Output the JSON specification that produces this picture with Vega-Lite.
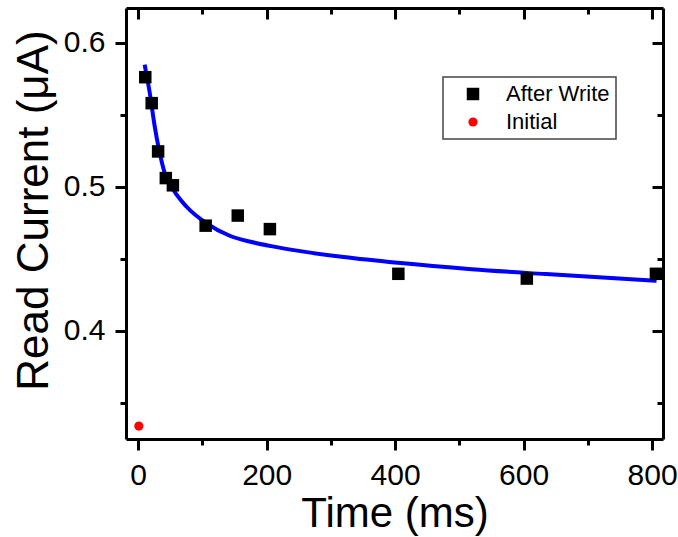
{
  "$schema": "https://vega.github.io/schema/vega-lite/v6.json",
  "width": 537,
  "height": 431,
  "autosize": "none",
  "padding": {"left": 126, "top": 8, "right": 15, "bottom": 98},
  "background": "white",
  "datasets": {
    "fit": [
      {"t": 10, "y": 0.5847},
      {"t": 18, "y": 0.565},
      {"t": 25.7, "y": 0.5419},
      {"t": 32.4, "y": 0.5257},
      {"t": 41.3, "y": 0.5095},
      {"t": 54, "y": 0.4985},
      {"t": 75, "y": 0.4863},
      {"t": 106, "y": 0.4748},
      {"t": 142.5, "y": 0.4660},
      {"t": 175, "y": 0.4618},
      {"t": 207, "y": 0.4588},
      {"t": 250, "y": 0.4555},
      {"t": 320, "y": 0.4512},
      {"t": 404, "y": 0.4472},
      {"t": 519, "y": 0.4428},
      {"t": 635, "y": 0.4394},
      {"t": 807, "y": 0.4347}
    ],
    "pts": [
      {"t": 11, "y": 0.576, "series": "After Write"},
      {"t": 21, "y": 0.558, "series": "After Write"},
      {"t": 31, "y": 0.5245, "series": "After Write"},
      {"t": 43, "y": 0.506, "series": "After Write"},
      {"t": 54, "y": 0.501, "series": "After Write"},
      {"t": 105, "y": 0.473, "series": "After Write"},
      {"t": 155, "y": 0.480, "series": "After Write"},
      {"t": 205, "y": 0.4706, "series": "After Write"},
      {"t": 405, "y": 0.4396, "series": "After Write"},
      {"t": 605, "y": 0.4363, "series": "After Write"},
      {"t": 806, "y": 0.4396, "series": "After Write"},
      {"t": 1, "y": 0.334, "series": "Initial"}
    ]
  },
  "resolve": {"axis": {"x": "independent", "y": "independent"}},
  "layer": [
    {
      "data": {"name": "fit"},
      "mark": {"type": "line", "color": "#0000FF", "strokeWidth": 4, "interpolate": "monotone"},
      "encoding": {
        "x": {"field": "t", "type": "quantitative", "scale": {"domain": [-19, 817], "nice": false, "zero": false},
          "axis": {"orient": "bottom", "values": [0, 200, 400, 600, 800], "tickSize": 11, "labelFontSize": 30, "labelPadding": 10, "title": "Time (ms)", "titleFontSize": 42, "titlePadding": 3}},
        "y": {"field": "y", "type": "quantitative", "scale": {"domain": [0.325, 0.624], "nice": false, "zero": false},
          "axis": {"orient": "left", "values": [0.4, 0.5, 0.6], "format": ".1f", "tickSize": 11, "labelFontSize": 30, "labelPadding": 10, "title": "Read Current (μA)", "titleFontSize": 44, "titlePadding": 7, "titleY": 202}}
      }
    },
    {
      "data": {"name": "pts"},
      "mark": {"type": "point", "filled": true, "opacity": 1},
      "encoding": {
        "x": {"field": "t", "type": "quantitative", "scale": {"domain": [-19, 817], "nice": false, "zero": false},
          "axis": {"orient": "top", "values": [0, 200, 400, 600, 800], "tickSize": -11, "labels": false, "title": null}},
        "y": {"field": "y", "type": "quantitative", "scale": {"domain": [0.325, 0.624], "nice": false, "zero": false},
          "axis": {"orient": "right", "values": [0.4, 0.5, 0.6], "tickSize": -11, "labels": false, "title": null}},
        "shape": {"field": "series", "type": "nominal", "scale": {"domain": ["After Write", "Initial"], "range": ["square", "circle"]}, "legend": {"title": null}},
        "color": {"field": "series", "type": "nominal", "scale": {"domain": ["After Write", "Initial"], "range": ["black", "#FF0000"]}, "legend": {"title": null}},
        "size": {"field": "series", "type": "nominal", "scale": {"domain": ["After Write", "Initial"], "range": [156, 85]}, "legend": {"title": null}}
      }
    },
    {
      "data": {"name": "pts"},
      "mark": {"type": "point", "opacity": 0},
      "encoding": {
        "x": {"field": "t", "type": "quantitative", "scale": {"domain": [-19, 817], "nice": false, "zero": false},
          "axis": {"orient": "bottom", "values": [100, 300, 500, 700], "tickSize": 6, "labels": false, "domain": false, "title": null}},
        "y": {"field": "y", "type": "quantitative", "scale": {"domain": [0.325, 0.624], "nice": false, "zero": false},
          "axis": {"orient": "left", "values": [0.35, 0.45, 0.55], "tickSize": 6, "labels": false, "domain": false, "title": null}}
      }
    },
    {
      "data": {"name": "pts"},
      "mark": {"type": "point", "opacity": 0},
      "encoding": {
        "x": {"field": "t", "type": "quantitative", "scale": {"domain": [-19, 817], "nice": false, "zero": false},
          "axis": {"orient": "top", "values": [100, 300, 500, 700], "tickSize": -6, "labels": false, "domain": false, "title": null}},
        "y": {"field": "y", "type": "quantitative", "scale": {"domain": [0.325, 0.624], "nice": false, "zero": false},
          "axis": {"orient": "right", "values": [0.35, 0.45, 0.55], "tickSize": -6, "labels": false, "domain": false, "title": null}}
      }
    }
  ],
  "config": {
    "font": "Liberation Sans",
    "view": {"stroke": null},
    "axis": {"grid": false, "domainColor": "black", "domainWidth": 3, "tickColor": "black", "tickWidth": 3, "labelColor": "black", "titleColor": "black", "labelFont": "Liberation Sans", "titleFont": "Liberation Sans", "titleFontWeight": "normal"},
    "legend": {"orient": "none", "legendX": 317, "legendY": 69, "padding": 6, "strokeColor": "#444", "strokeWidth": 1.5, "fillColor": "white", "labelFontSize": 22, "labelFont": "Liberation Sans", "labelColor": "black", "rowPadding": 6, "symbolOffset": 13, "labelOffset": 22, "symbolStrokeWidth": 0}
  }
}
